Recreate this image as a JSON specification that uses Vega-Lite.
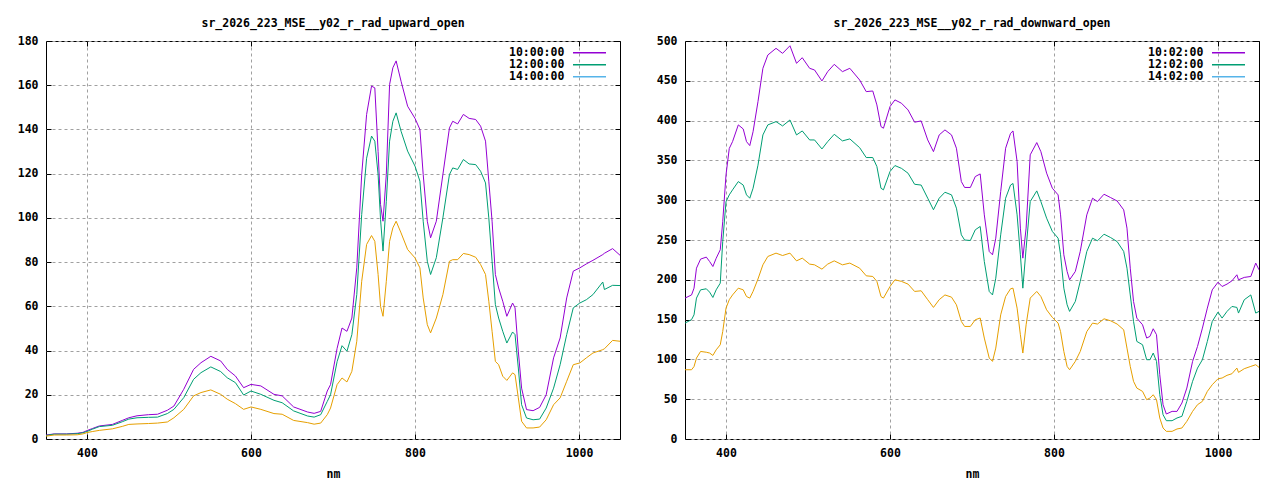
{
"$schema": "https://vega.github.io/schema/vega-lite/v6.json",
"background": "white",
"padding": {"left": 5, "top": 17, "right": 5, "bottom": 0},
"datasets": {
"up": [
{"t":"10:00:00","nm":350,"v":1.8},{"t":"10:00:00","nm":360,"v":2.3},{"t":"10:00:00","nm":375,"v":2.3},{"t":"10:00:00","nm":388,"v":2.6},{"t":"10:00:00","nm":395,"v":3.0},{"t":"10:00:00","nm":400,"v":3.8},{"t":"10:00:00","nm":407,"v":4.8},{"t":"10:00:00","nm":415,"v":5.9},{"t":"10:00:00","nm":431,"v":6.6},{"t":"10:00:00","nm":443,"v":8.4},{"t":"10:00:00","nm":451,"v":9.6},{"t":"10:00:00","nm":461,"v":10.5},{"t":"10:00:00","nm":475,"v":11.0},{"t":"10:00:00","nm":486,"v":11.2},{"t":"10:00:00","nm":498,"v":13.0},{"t":"10:00:00","nm":506,"v":14.9},{"t":"10:00:00","nm":518,"v":22.5},{"t":"10:00:00","nm":530,"v":31.5},{"t":"10:00:00","nm":539,"v":34.5},{"t":"10:00:00","nm":551,"v":37.4},{"t":"10:00:00","nm":563,"v":35.3},{"t":"10:00:00","nm":571,"v":31.5},{"t":"10:00:00","nm":581,"v":28.5},{"t":"10:00:00","nm":591,"v":23.2},{"t":"10:00:00","nm":600,"v":24.7},{"t":"10:00:00","nm":612,"v":24.0},{"t":"10:00:00","nm":628,"v":20.2},{"t":"10:00:00","nm":638,"v":19.5},{"t":"10:00:00","nm":652,"v":14.5},{"t":"10:00:00","nm":669,"v":12.2},{"t":"10:00:00","nm":677,"v":11.6},{"t":"10:00:00","nm":685,"v":12.5},{"t":"10:00:00","nm":693,"v":21.7},{"t":"10:00:00","nm":697,"v":24.6},{"t":"10:00:00","nm":705,"v":41.0},{"t":"10:00:00","nm":711,"v":50.2},{"t":"10:00:00","nm":717,"v":48.7},{"t":"10:00:00","nm":723,"v":54.7},{"t":"10:00:00","nm":729,"v":77.4},{"t":"10:00:00","nm":735,"v":119.6},{"t":"10:00:00","nm":741,"v":146.8},{"t":"10:00:00","nm":747,"v":159.6},{"t":"10:00:00","nm":751,"v":158.8},{"t":"10:00:00","nm":755,"v":130.0},{"t":"10:00:00","nm":758,"v":106.0},{"t":"10:00:00","nm":761,"v":98.5},{"t":"10:00:00","nm":765,"v":119.6},{"t":"10:00:00","nm":769,"v":160.3},{"t":"10:00:00","nm":773,"v":167.9},{"t":"10:00:00","nm":777,"v":171.0},{"t":"10:00:00","nm":783,"v":161.8},{"t":"10:00:00","nm":791,"v":150.5},{"t":"10:00:00","nm":800,"v":145.0},{"t":"10:00:00","nm":806,"v":140.0},{"t":"10:00:00","nm":810,"v":119.6},{"t":"10:00:00","nm":815,"v":98.5},{"t":"10:00:00","nm":819,"v":91.0},{"t":"10:00:00","nm":826,"v":98.5},{"t":"10:00:00","nm":834,"v":119.6},{"t":"10:00:00","nm":842,"v":140.7},{"t":"10:00:00","nm":846,"v":143.7},{"t":"10:00:00","nm":852,"v":142.5},{"t":"10:00:00","nm":859,"v":146.8},{"t":"10:00:00","nm":866,"v":145.0},{"t":"10:00:00","nm":874,"v":144.5},{"t":"10:00:00","nm":880,"v":141.5},{"t":"10:00:00","nm":886,"v":134.7},{"t":"10:00:00","nm":890,"v":116.6},{"t":"10:00:00","nm":894,"v":98.5},{"t":"10:00:00","nm":898,"v":74.4},{"t":"10:00:00","nm":902,"v":68.3},{"t":"10:00:00","nm":907,"v":62.3},{"t":"10:00:00","nm":912,"v":55.5},{"t":"10:00:00","nm":919,"v":61.5},{"t":"10:00:00","nm":922,"v":59.3},{"t":"10:00:00","nm":926,"v":39.7},{"t":"10:00:00","nm":930,"v":23.0},{"t":"10:00:00","nm":936,"v":13.3},{"t":"10:00:00","nm":944,"v":12.8},{"t":"10:00:00","nm":952,"v":14.3},{"t":"10:00:00","nm":960,"v":20.0},{"t":"10:00:00","nm":969,"v":36.7},{"t":"10:00:00","nm":977,"v":45.7},{"t":"10:00:00","nm":985,"v":63.8},{"t":"10:00:00","nm":993,"v":75.9},{"t":"10:00:00","nm":1001,"v":77.4},{"t":"10:00:00","nm":1009,"v":79.2},{"t":"10:00:00","nm":1017,"v":80.8},{"t":"10:00:00","nm":1029,"v":83.4},{"t":"10:00:00","nm":1031,"v":84.0},{"t":"10:00:00","nm":1041,"v":86.1},{"t":"10:00:00","nm":1050,"v":83.1},
{"t":"12:00:00","nm":350,"v":1.6},{"t":"12:00:00","nm":360,"v":2.2},{"t":"12:00:00","nm":375,"v":2.2},{"t":"12:00:00","nm":388,"v":2.4},{"t":"12:00:00","nm":395,"v":2.8},{"t":"12:00:00","nm":400,"v":3.4},{"t":"12:00:00","nm":407,"v":4.5},{"t":"12:00:00","nm":415,"v":5.6},{"t":"12:00:00","nm":431,"v":6.2},{"t":"12:00:00","nm":443,"v":7.8},{"t":"12:00:00","nm":451,"v":9.0},{"t":"12:00:00","nm":461,"v":9.6},{"t":"12:00:00","nm":475,"v":9.8},{"t":"12:00:00","nm":486,"v":9.9},{"t":"12:00:00","nm":498,"v":11.5},{"t":"12:00:00","nm":506,"v":13.4},{"t":"12:00:00","nm":518,"v":18.7},{"t":"12:00:00","nm":530,"v":27.0},{"t":"12:00:00","nm":539,"v":30.0},{"t":"12:00:00","nm":551,"v":32.6},{"t":"12:00:00","nm":563,"v":30.5},{"t":"12:00:00","nm":571,"v":27.7},{"t":"12:00:00","nm":581,"v":25.5},{"t":"12:00:00","nm":591,"v":19.9},{"t":"12:00:00","nm":600,"v":21.7},{"t":"12:00:00","nm":612,"v":20.2},{"t":"12:00:00","nm":628,"v":17.5},{"t":"12:00:00","nm":638,"v":16.4},{"t":"12:00:00","nm":652,"v":12.7},{"t":"12:00:00","nm":669,"v":10.4},{"t":"12:00:00","nm":677,"v":9.9},{"t":"12:00:00","nm":685,"v":11.0},{"t":"12:00:00","nm":693,"v":17.0},{"t":"12:00:00","nm":697,"v":20.0},{"t":"12:00:00","nm":705,"v":35.0},{"t":"12:00:00","nm":711,"v":42.2},{"t":"12:00:00","nm":717,"v":39.7},{"t":"12:00:00","nm":723,"v":47.2},{"t":"12:00:00","nm":729,"v":65.3},{"t":"12:00:00","nm":735,"v":101.5},{"t":"12:00:00","nm":741,"v":127.0},{"t":"12:00:00","nm":747,"v":137.0},{"t":"12:00:00","nm":751,"v":134.7},{"t":"12:00:00","nm":755,"v":119.6},{"t":"12:00:00","nm":758,"v":99.2},{"t":"12:00:00","nm":761,"v":85.0},{"t":"12:00:00","nm":765,"v":107.5},{"t":"12:00:00","nm":769,"v":134.7},{"t":"12:00:00","nm":773,"v":143.7},{"t":"12:00:00","nm":777,"v":147.5},{"t":"12:00:00","nm":783,"v":139.2},{"t":"12:00:00","nm":791,"v":130.2},{"t":"12:00:00","nm":800,"v":123.4},{"t":"12:00:00","nm":806,"v":116.6},{"t":"12:00:00","nm":810,"v":98.5},{"t":"12:00:00","nm":815,"v":80.4},{"t":"12:00:00","nm":819,"v":74.4},{"t":"12:00:00","nm":826,"v":82.0},{"t":"12:00:00","nm":834,"v":100.0},{"t":"12:00:00","nm":842,"v":119.6},{"t":"12:00:00","nm":846,"v":122.6},{"t":"12:00:00","nm":852,"v":121.9},{"t":"12:00:00","nm":859,"v":126.4},{"t":"12:00:00","nm":866,"v":124.4},{"t":"12:00:00","nm":874,"v":124.1},{"t":"12:00:00","nm":880,"v":121.1},{"t":"12:00:00","nm":886,"v":115.8},{"t":"12:00:00","nm":890,"v":100.0},{"t":"12:00:00","nm":894,"v":80.4},{"t":"12:00:00","nm":898,"v":60.8},{"t":"12:00:00","nm":902,"v":54.7},{"t":"12:00:00","nm":907,"v":48.7},{"t":"12:00:00","nm":912,"v":43.4},{"t":"12:00:00","nm":919,"v":48.4},{"t":"12:00:00","nm":922,"v":47.2},{"t":"12:00:00","nm":926,"v":32.1},{"t":"12:00:00","nm":930,"v":15.5},{"t":"12:00:00","nm":936,"v":9.5},{"t":"12:00:00","nm":944,"v":8.7},{"t":"12:00:00","nm":952,"v":9.0},{"t":"12:00:00","nm":960,"v":14.0},{"t":"12:00:00","nm":969,"v":23.0},{"t":"12:00:00","nm":977,"v":33.6},{"t":"12:00:00","nm":985,"v":47.2},{"t":"12:00:00","nm":993,"v":59.3},{"t":"12:00:00","nm":1001,"v":61.5},{"t":"12:00:00","nm":1009,"v":63.0},{"t":"12:00:00","nm":1017,"v":65.3},{"t":"12:00:00","nm":1029,"v":71.0},{"t":"12:00:00","nm":1031,"v":67.6},{"t":"12:00:00","nm":1041,"v":69.5},{"t":"12:00:00","nm":1050,"v":69.4},
{"t":"14:00:00","nm":350,"v":1.3},{"t":"14:00:00","nm":360,"v":1.8},{"t":"14:00:00","nm":375,"v":1.8},{"t":"14:00:00","nm":388,"v":1.9},{"t":"14:00:00","nm":395,"v":2.3},{"t":"14:00:00","nm":400,"v":2.9},{"t":"14:00:00","nm":407,"v":3.4},{"t":"14:00:00","nm":415,"v":3.9},{"t":"14:00:00","nm":431,"v":4.6},{"t":"14:00:00","nm":443,"v":5.7},{"t":"14:00:00","nm":451,"v":6.6},{"t":"14:00:00","nm":461,"v":6.8},{"t":"14:00:00","nm":475,"v":7.0},{"t":"14:00:00","nm":486,"v":7.2},{"t":"14:00:00","nm":498,"v":7.7},{"t":"14:00:00","nm":506,"v":9.6},{"t":"14:00:00","nm":518,"v":13.4},{"t":"14:00:00","nm":530,"v":19.5},{"t":"14:00:00","nm":539,"v":21.0},{"t":"14:00:00","nm":551,"v":22.2},{"t":"14:00:00","nm":563,"v":20.2},{"t":"14:00:00","nm":571,"v":18.0},{"t":"14:00:00","nm":581,"v":16.0},{"t":"14:00:00","nm":591,"v":13.4},{"t":"14:00:00","nm":600,"v":14.5},{"t":"14:00:00","nm":612,"v":13.4},{"t":"14:00:00","nm":628,"v":11.5},{"t":"14:00:00","nm":638,"v":11.2},{"t":"14:00:00","nm":652,"v":8.4},{"t":"14:00:00","nm":669,"v":7.4},{"t":"14:00:00","nm":677,"v":6.7},{"t":"14:00:00","nm":685,"v":7.2},{"t":"14:00:00","nm":693,"v":11.0},{"t":"14:00:00","nm":697,"v":14.0},{"t":"14:00:00","nm":705,"v":24.6},{"t":"14:00:00","nm":711,"v":27.6},{"t":"14:00:00","nm":717,"v":25.8},{"t":"14:00:00","nm":723,"v":30.6},{"t":"14:00:00","nm":729,"v":44.2},{"t":"14:00:00","nm":735,"v":71.3},{"t":"14:00:00","nm":741,"v":88.0},{"t":"14:00:00","nm":747,"v":92.0},{"t":"14:00:00","nm":751,"v":89.4},{"t":"14:00:00","nm":755,"v":74.4},{"t":"14:00:00","nm":758,"v":60.0},{"t":"14:00:00","nm":761,"v":55.5},{"t":"14:00:00","nm":765,"v":71.3},{"t":"14:00:00","nm":769,"v":89.4},{"t":"14:00:00","nm":773,"v":95.5},{"t":"14:00:00","nm":777,"v":98.5},{"t":"14:00:00","nm":783,"v":93.2},{"t":"14:00:00","nm":791,"v":85.7},{"t":"14:00:00","nm":800,"v":81.9},{"t":"14:00:00","nm":806,"v":77.4},{"t":"14:00:00","nm":810,"v":63.8},{"t":"14:00:00","nm":815,"v":51.7},{"t":"14:00:00","nm":819,"v":48.0},{"t":"14:00:00","nm":826,"v":54.7},{"t":"14:00:00","nm":834,"v":65.3},{"t":"14:00:00","nm":842,"v":80.4},{"t":"14:00:00","nm":846,"v":81.1},{"t":"14:00:00","nm":852,"v":81.1},{"t":"14:00:00","nm":859,"v":83.9},{"t":"14:00:00","nm":866,"v":83.4},{"t":"14:00:00","nm":874,"v":82.2},{"t":"14:00:00","nm":880,"v":78.9},{"t":"14:00:00","nm":886,"v":74.4},{"t":"14:00:00","nm":890,"v":62.3},{"t":"14:00:00","nm":894,"v":48.7},{"t":"14:00:00","nm":898,"v":35.1},{"t":"14:00:00","nm":902,"v":33.6},{"t":"14:00:00","nm":907,"v":28.4},{"t":"14:00:00","nm":912,"v":26.5},{"t":"14:00:00","nm":919,"v":29.9},{"t":"14:00:00","nm":922,"v":29.1},{"t":"14:00:00","nm":926,"v":18.6},{"t":"14:00:00","nm":930,"v":8.0},{"t":"14:00:00","nm":936,"v":5.0},{"t":"14:00:00","nm":944,"v":5.0},{"t":"14:00:00","nm":952,"v":5.4},{"t":"14:00:00","nm":960,"v":8.7},{"t":"14:00:00","nm":969,"v":15.5},{"t":"14:00:00","nm":977,"v":18.6},{"t":"14:00:00","nm":985,"v":26.1},{"t":"14:00:00","nm":993,"v":33.6},{"t":"14:00:00","nm":1001,"v":34.4},{"t":"14:00:00","nm":1009,"v":36.7},{"t":"14:00:00","nm":1017,"v":38.9},{"t":"14:00:00","nm":1029,"v":40.4},{"t":"14:00:00","nm":1031,"v":40.8},{"t":"14:00:00","nm":1041,"v":44.6},{"t":"14:00:00","nm":1050,"v":44.2}
],
"down": [
{"t":"10:02:00","nm":350,"v":177},{"t":"10:02:00","nm":358,"v":181},{"t":"10:02:00","nm":361,"v":189.5},{"t":"10:02:00","nm":364,"v":214.6},{"t":"10:02:00","nm":369,"v":226},{"t":"10:02:00","nm":376,"v":228.5},{"t":"10:02:00","nm":380,"v":223},{"t":"10:02:00","nm":384,"v":216.7},{"t":"10:02:00","nm":388,"v":227},{"t":"10:02:00","nm":393,"v":237.7},{"t":"10:02:00","nm":396,"v":273},{"t":"10:02:00","nm":400,"v":331.8},{"t":"10:02:00","nm":404,"v":365},{"t":"10:02:00","nm":408,"v":373.6},{"t":"10:02:00","nm":415,"v":394.6},{"t":"10:02:00","nm":421,"v":389.5},{"t":"10:02:00","nm":425,"v":373.6},{"t":"10:02:00","nm":429,"v":368.6},{"t":"10:02:00","nm":433,"v":386},{"t":"10:02:00","nm":439,"v":423.8},{"t":"10:02:00","nm":445,"v":465.7},{"t":"10:02:00","nm":451,"v":482.4},{"t":"10:02:00","nm":461,"v":490.8},{"t":"10:02:00","nm":469,"v":484.5},{"t":"10:02:00","nm":478,"v":494},{"t":"10:02:00","nm":486,"v":472},{"t":"10:02:00","nm":493,"v":479},{"t":"10:02:00","nm":502,"v":465.7},{"t":"10:02:00","nm":508,"v":463.6},{"t":"10:02:00","nm":517,"v":449.8},{"t":"10:02:00","nm":524,"v":461.5},{"t":"10:02:00","nm":532,"v":470.7},{"t":"10:02:00","nm":542,"v":461.5},{"t":"10:02:00","nm":551,"v":465.7},{"t":"10:02:00","nm":563,"v":451},{"t":"10:02:00","nm":571,"v":436.4},{"t":"10:02:00","nm":579,"v":437.2},{"t":"10:02:00","nm":584,"v":419.7},{"t":"10:02:00","nm":589,"v":392.5},{"t":"10:02:00","nm":592,"v":390.4},{"t":"10:02:00","nm":600,"v":417.6},{"t":"10:02:00","nm":606,"v":426},{"t":"10:02:00","nm":614,"v":421.8},{"t":"10:02:00","nm":622,"v":413.4},{"t":"10:02:00","nm":630,"v":398},{"t":"10:02:00","nm":638,"v":399.6},{"t":"10:02:00","nm":646,"v":375.7},{"t":"10:02:00","nm":653,"v":361},{"t":"10:02:00","nm":660,"v":382},{"t":"10:02:00","nm":667,"v":388.3},{"t":"10:02:00","nm":675,"v":382},{"t":"10:02:00","nm":681,"v":365.3},{"t":"10:02:00","nm":687,"v":323.4},{"t":"10:02:00","nm":691,"v":316},{"t":"10:02:00","nm":698,"v":316},{"t":"10:02:00","nm":704,"v":329.7},{"t":"10:02:00","nm":710,"v":333},{"t":"10:02:00","nm":715,"v":281.6},{"t":"10:02:00","nm":721,"v":235.6},{"t":"10:02:00","nm":725,"v":231.4},{"t":"10:02:00","nm":729,"v":252.3},{"t":"10:02:00","nm":735,"v":310.9},{"t":"10:02:00","nm":741,"v":365.3},{"t":"10:02:00","nm":747,"v":384},{"t":"10:02:00","nm":750,"v":387},{"t":"10:02:00","nm":755,"v":348.5},{"t":"10:02:00","nm":759,"v":264.9},{"t":"10:02:00","nm":762,"v":227.2},{"t":"10:02:00","nm":766,"v":264.9},{"t":"10:02:00","nm":771,"v":357},{"t":"10:02:00","nm":779,"v":372.4},{"t":"10:02:00","nm":784,"v":361},{"t":"10:02:00","nm":791,"v":334},{"t":"10:02:00","nm":798,"v":315},{"t":"10:02:00","nm":805,"v":306.7},{"t":"10:02:00","nm":808,"v":281.6},{"t":"10:02:00","nm":812,"v":231.4},{"t":"10:02:00","nm":816,"v":210.5},{"t":"10:02:00","nm":819,"v":200},{"t":"10:02:00","nm":826,"v":210.5},{"t":"10:02:00","nm":832,"v":235.6},{"t":"10:02:00","nm":840,"v":281.6},{"t":"10:02:00","nm":847,"v":302.5},{"t":"10:02:00","nm":853,"v":298.3},{"t":"10:02:00","nm":861,"v":307.5},{"t":"10:02:00","nm":869,"v":303.3},{"t":"10:02:00","nm":877,"v":299},{"t":"10:02:00","nm":885,"v":287.9},{"t":"10:02:00","nm":889,"v":264.9},{"t":"10:02:00","nm":893,"v":214.6},{"t":"10:02:00","nm":897,"v":172.8},{"t":"10:02:00","nm":901,"v":151.9},{"t":"10:02:00","nm":908,"v":143.5},{"t":"10:02:00","nm":913,"v":126.8},{"t":"10:02:00","nm":917,"v":128.9},{"t":"10:02:00","nm":921,"v":138.5},{"t":"10:02:00","nm":925,"v":131},{"t":"10:02:00","nm":929,"v":80.8},{"t":"10:02:00","nm":933,"v":43},{"t":"10:02:00","nm":937,"v":31.4},{"t":"10:02:00","nm":944,"v":34.7},{"t":"10:02:00","nm":950,"v":34.7},{"t":"10:02:00","nm":956,"v":45.2},{"t":"10:02:00","nm":962,"v":64},{"t":"10:02:00","nm":969,"v":97.5},{"t":"10:02:00","nm":975,"v":116.3},{"t":"10:02:00","nm":981,"v":139.3},{"t":"10:02:00","nm":987,"v":164.4},{"t":"10:02:00","nm":993,"v":187.4},{"t":"10:02:00","nm":1000,"v":197},{"t":"10:02:00","nm":1005,"v":191.6},{"t":"10:02:00","nm":1011,"v":194.6},{"t":"10:02:00","nm":1017,"v":198.7},{"t":"10:02:00","nm":1023,"v":206.3},{"t":"10:02:00","nm":1025,"v":200},{"t":"10:02:00","nm":1032,"v":203},{"t":"10:02:00","nm":1040,"v":204.2},{"t":"10:02:00","nm":1046,"v":221},{"t":"10:02:00","nm":1050,"v":212.6},
{"t":"12:02:00","nm":350,"v":145.6},{"t":"12:02:00","nm":358,"v":150},{"t":"12:02:00","nm":361,"v":156},{"t":"12:02:00","nm":364,"v":177},{"t":"12:02:00","nm":369,"v":187.4},{"t":"12:02:00","nm":376,"v":188.7},{"t":"12:02:00","nm":380,"v":184.5},{"t":"12:02:00","nm":384,"v":177.8},{"t":"12:02:00","nm":388,"v":187.4},{"t":"12:02:00","nm":393,"v":195.8},{"t":"12:02:00","nm":396,"v":248},{"t":"12:02:00","nm":400,"v":298},{"t":"12:02:00","nm":404,"v":306.7},{"t":"12:02:00","nm":408,"v":313},{"t":"12:02:00","nm":415,"v":323.4},{"t":"12:02:00","nm":421,"v":319},{"t":"12:02:00","nm":425,"v":306.7},{"t":"12:02:00","nm":429,"v":302.5},{"t":"12:02:00","nm":433,"v":315},{"t":"12:02:00","nm":439,"v":344},{"t":"12:02:00","nm":445,"v":382},{"t":"12:02:00","nm":451,"v":394.6},{"t":"12:02:00","nm":461,"v":398.7},{"t":"12:02:00","nm":469,"v":393.3},{"t":"12:02:00","nm":478,"v":400.8},{"t":"12:02:00","nm":486,"v":382},{"t":"12:02:00","nm":493,"v":387},{"t":"12:02:00","nm":502,"v":375.7},{"t":"12:02:00","nm":508,"v":375.7},{"t":"12:02:00","nm":517,"v":364.4},{"t":"12:02:00","nm":524,"v":373.6},{"t":"12:02:00","nm":532,"v":382.8},{"t":"12:02:00","nm":542,"v":374.5},{"t":"12:02:00","nm":551,"v":377},{"t":"12:02:00","nm":563,"v":366},{"t":"12:02:00","nm":571,"v":353.6},{"t":"12:02:00","nm":579,"v":353.6},{"t":"12:02:00","nm":584,"v":342.3},{"t":"12:02:00","nm":589,"v":315},{"t":"12:02:00","nm":592,"v":313},{"t":"12:02:00","nm":600,"v":336},{"t":"12:02:00","nm":606,"v":343.5},{"t":"12:02:00","nm":614,"v":340},{"t":"12:02:00","nm":622,"v":333.9},{"t":"12:02:00","nm":630,"v":320},{"t":"12:02:00","nm":638,"v":319},{"t":"12:02:00","nm":646,"v":302.5},{"t":"12:02:00","nm":653,"v":288},{"t":"12:02:00","nm":660,"v":302.5},{"t":"12:02:00","nm":667,"v":310},{"t":"12:02:00","nm":675,"v":306.7},{"t":"12:02:00","nm":681,"v":290},{"t":"12:02:00","nm":687,"v":256.5},{"t":"12:02:00","nm":691,"v":250},{"t":"12:02:00","nm":698,"v":249.4},{"t":"12:02:00","nm":704,"v":262.8},{"t":"12:02:00","nm":710,"v":267},{"t":"12:02:00","nm":715,"v":223},{"t":"12:02:00","nm":721,"v":185.4},{"t":"12:02:00","nm":725,"v":181},{"t":"12:02:00","nm":729,"v":202},{"t":"12:02:00","nm":735,"v":256.5},{"t":"12:02:00","nm":741,"v":302.5},{"t":"12:02:00","nm":747,"v":319},{"t":"12:02:00","nm":750,"v":321},{"t":"12:02:00","nm":755,"v":281.6},{"t":"12:02:00","nm":759,"v":231.4},{"t":"12:02:00","nm":762,"v":189.5},{"t":"12:02:00","nm":766,"v":239.7},{"t":"12:02:00","nm":771,"v":298.3},{"t":"12:02:00","nm":779,"v":311.7},{"t":"12:02:00","nm":784,"v":298.3},{"t":"12:02:00","nm":791,"v":277.4},{"t":"12:02:00","nm":798,"v":260.7},{"t":"12:02:00","nm":805,"v":252.3},{"t":"12:02:00","nm":808,"v":231.4},{"t":"12:02:00","nm":812,"v":189.5},{"t":"12:02:00","nm":816,"v":168.6},{"t":"12:02:00","nm":819,"v":160.3},{"t":"12:02:00","nm":826,"v":172.8},{"t":"12:02:00","nm":832,"v":198},{"t":"12:02:00","nm":840,"v":235.6},{"t":"12:02:00","nm":847,"v":252.3},{"t":"12:02:00","nm":853,"v":249},{"t":"12:02:00","nm":861,"v":257.3},{"t":"12:02:00","nm":869,"v":253.1},{"t":"12:02:00","nm":877,"v":248},{"t":"12:02:00","nm":885,"v":235.6},{"t":"12:02:00","nm":889,"v":214.6},{"t":"12:02:00","nm":893,"v":181},{"t":"12:02:00","nm":897,"v":147.7},{"t":"12:02:00","nm":901,"v":122.6},{"t":"12:02:00","nm":908,"v":118.4},{"t":"12:02:00","nm":913,"v":99.6},{"t":"12:02:00","nm":917,"v":99.6},{"t":"12:02:00","nm":921,"v":108},{"t":"12:02:00","nm":925,"v":97.5},{"t":"12:02:00","nm":929,"v":55.6},{"t":"12:02:00","nm":933,"v":30.5},{"t":"12:02:00","nm":937,"v":23},{"t":"12:02:00","nm":944,"v":23},{"t":"12:02:00","nm":950,"v":26.4},{"t":"12:02:00","nm":956,"v":28.5},{"t":"12:02:00","nm":962,"v":47.3},{"t":"12:02:00","nm":969,"v":72.4},{"t":"12:02:00","nm":975,"v":89.1},{"t":"12:02:00","nm":981,"v":99.6},{"t":"12:02:00","nm":987,"v":122.6},{"t":"12:02:00","nm":993,"v":147.7},{"t":"12:02:00","nm":1000,"v":159.4},{"t":"12:02:00","nm":1005,"v":151.9},{"t":"12:02:00","nm":1011,"v":160.3},{"t":"12:02:00","nm":1017,"v":166.5},{"t":"12:02:00","nm":1023,"v":165.3},{"t":"12:02:00","nm":1025,"v":158.2},{"t":"12:02:00","nm":1032,"v":174.9},{"t":"12:02:00","nm":1040,"v":181},{"t":"12:02:00","nm":1046,"v":158.2},{"t":"12:02:00","nm":1050,"v":160.3},
{"t":"14:02:00","nm":350,"v":87},{"t":"14:02:00","nm":358,"v":87},{"t":"14:02:00","nm":361,"v":91},{"t":"14:02:00","nm":364,"v":101.7},{"t":"14:02:00","nm":369,"v":110},{"t":"14:02:00","nm":376,"v":109},{"t":"14:02:00","nm":380,"v":108},{"t":"14:02:00","nm":384,"v":105},{"t":"14:02:00","nm":388,"v":112},{"t":"14:02:00","nm":393,"v":118.4},{"t":"14:02:00","nm":396,"v":135},{"t":"14:02:00","nm":400,"v":164.4},{"t":"14:02:00","nm":404,"v":175},{"t":"14:02:00","nm":408,"v":181},{"t":"14:02:00","nm":415,"v":189.5},{"t":"14:02:00","nm":421,"v":187.4},{"t":"14:02:00","nm":425,"v":179},{"t":"14:02:00","nm":429,"v":177},{"t":"14:02:00","nm":433,"v":185.4},{"t":"14:02:00","nm":439,"v":201},{"t":"14:02:00","nm":445,"v":218.8},{"t":"14:02:00","nm":451,"v":229.3},{"t":"14:02:00","nm":461,"v":233.5},{"t":"14:02:00","nm":469,"v":230.5},{"t":"14:02:00","nm":478,"v":233.5},{"t":"14:02:00","nm":486,"v":223.8},{"t":"14:02:00","nm":493,"v":227.2},{"t":"14:02:00","nm":502,"v":219.7},{"t":"14:02:00","nm":508,"v":218.8},{"t":"14:02:00","nm":517,"v":213.4},{"t":"14:02:00","nm":524,"v":219.7},{"t":"14:02:00","nm":532,"v":223.8},{"t":"14:02:00","nm":542,"v":218.8},{"t":"14:02:00","nm":551,"v":221},{"t":"14:02:00","nm":563,"v":214.6},{"t":"14:02:00","nm":571,"v":205},{"t":"14:02:00","nm":579,"v":204.2},{"t":"14:02:00","nm":584,"v":198},{"t":"14:02:00","nm":589,"v":179},{"t":"14:02:00","nm":592,"v":177},{"t":"14:02:00","nm":600,"v":191.6},{"t":"14:02:00","nm":606,"v":200},{"t":"14:02:00","nm":614,"v":198},{"t":"14:02:00","nm":622,"v":194.6},{"t":"14:02:00","nm":630,"v":185.4},{"t":"14:02:00","nm":638,"v":186.2},{"t":"14:02:00","nm":646,"v":175},{"t":"14:02:00","nm":653,"v":165.3},{"t":"14:02:00","nm":660,"v":175},{"t":"14:02:00","nm":667,"v":181},{"t":"14:02:00","nm":675,"v":178.2},{"t":"14:02:00","nm":681,"v":168.6},{"t":"14:02:00","nm":687,"v":147.7},{"t":"14:02:00","nm":691,"v":141.4},{"t":"14:02:00","nm":698,"v":141.4},{"t":"14:02:00","nm":704,"v":149.8},{"t":"14:02:00","nm":710,"v":152},{"t":"14:02:00","nm":715,"v":126.8},{"t":"14:02:00","nm":721,"v":101.7},{"t":"14:02:00","nm":725,"v":97.5},{"t":"14:02:00","nm":729,"v":114.2},{"t":"14:02:00","nm":735,"v":156},{"t":"14:02:00","nm":741,"v":179},{"t":"14:02:00","nm":747,"v":188.7},{"t":"14:02:00","nm":750,"v":189.5},{"t":"14:02:00","nm":755,"v":164.4},{"t":"14:02:00","nm":759,"v":131},{"t":"14:02:00","nm":762,"v":108},{"t":"14:02:00","nm":766,"v":143.5},{"t":"14:02:00","nm":771,"v":177},{"t":"14:02:00","nm":779,"v":185.4},{"t":"14:02:00","nm":784,"v":179},{"t":"14:02:00","nm":791,"v":162.3},{"t":"14:02:00","nm":798,"v":152.7},{"t":"14:02:00","nm":805,"v":145.6},{"t":"14:02:00","nm":808,"v":135},{"t":"14:02:00","nm":812,"v":110},{"t":"14:02:00","nm":816,"v":91.2},{"t":"14:02:00","nm":819,"v":87},{"t":"14:02:00","nm":826,"v":97.5},{"t":"14:02:00","nm":832,"v":110},{"t":"14:02:00","nm":840,"v":135},{"t":"14:02:00","nm":847,"v":145.6},{"t":"14:02:00","nm":853,"v":144.4},{"t":"14:02:00","nm":861,"v":151},{"t":"14:02:00","nm":869,"v":148.5},{"t":"14:02:00","nm":877,"v":144.4},{"t":"14:02:00","nm":885,"v":137.2},{"t":"14:02:00","nm":889,"v":114.2},{"t":"14:02:00","nm":893,"v":91.2},{"t":"14:02:00","nm":897,"v":72.4},{"t":"14:02:00","nm":901,"v":64},{"t":"14:02:00","nm":908,"v":59.8},{"t":"14:02:00","nm":913,"v":49.4},{"t":"14:02:00","nm":917,"v":51.5},{"t":"14:02:00","nm":921,"v":55.6},{"t":"14:02:00","nm":925,"v":49.4},{"t":"14:02:00","nm":929,"v":26.4},{"t":"14:02:00","nm":933,"v":13.8},{"t":"14:02:00","nm":937,"v":9.6},{"t":"14:02:00","nm":944,"v":9.6},{"t":"14:02:00","nm":950,"v":12.6},{"t":"14:02:00","nm":956,"v":13.8},{"t":"14:02:00","nm":962,"v":22.2},{"t":"14:02:00","nm":969,"v":34.7},{"t":"14:02:00","nm":975,"v":43.1},{"t":"14:02:00","nm":981,"v":47.3},{"t":"14:02:00","nm":987,"v":59.8},{"t":"14:02:00","nm":993,"v":68.2},{"t":"14:02:00","nm":1000,"v":75.7},{"t":"14:02:00","nm":1005,"v":76.6},{"t":"14:02:00","nm":1011,"v":80},{"t":"14:02:00","nm":1017,"v":82},{"t":"14:02:00","nm":1023,"v":89.1},{"t":"14:02:00","nm":1025,"v":83.7},{"t":"14:02:00","nm":1032,"v":88.3},{"t":"14:02:00","nm":1040,"v":91.2},{"t":"14:02:00","nm":1046,"v":93.3},{"t":"14:02:00","nm":1050,"v":90}
]
},
"config": {
"font": "DejaVu Sans Mono",
"view": {"stroke": "black", "strokeWidth": 1},
"axis": {"labelFont": "DejaVu Sans Mono", "labelFontSize": 11.5, "labelFontWeight": "bold", "labelColor": "black", "titleFont": "DejaVu Sans Mono", "titleFontSize": 11.5, "titleFontWeight": "bold", "titleColor": "black", "domain": false, "tickColor": "black", "tickSize": -5, "tickWidth": 1, "gridColor": "#a0a0a0", "gridDash": [3, 3], "gridWidth": 1},
"legend": {"labelFont": "DejaVu Sans Mono", "labelFontSize": 11.5, "labelFontWeight": "bold", "labelColor": "black"},
"title": {"font": "DejaVu Sans Mono", "fontSize": 11.5, "fontWeight": "bold", "color": "black"}
},
"spacing": 20,
"hconcat": [
{
"width": 574, "height": 398,
"title": {"text": "sr_2026_223_MSE__y02_r_rad_upward_open", "offset": 5.5},
"data": {"name": "up"},
"layer": [
{"mark": {"type": "line", "strokeWidth": 1, "clip": true},
"encoding": {
"x": {"field": "nm", "type": "quantitative", "scale": {"domain": [350, 1050], "nice": false, "zero": false}, "axis": {"orient": "bottom", "values": [400, 600, 800, 1000], "format": "d", "title": "nm", "grid": true, "labelPadding": 13, "titlePadding": 9.5}},
"y": {"field": "v", "type": "quantitative", "scale": {"domain": [0, 180], "nice": false}, "axis": {"orient": "left", "values": [0, 20, 40, 60, 80, 100, 120, 140, 160, 180], "title": null, "grid": true, "labelPadding": 13, "minExtent": 40, "maxExtent": 40}},
"color": {"field": "t", "type": "nominal", "scale": {"domain": ["10:00:00", "12:00:00", "14:00:00"], "range": ["#9400d3", "#009e73", "#e69f00"]}, "legend": null}
}},
{"transform": [{"filter": {"field": "nm", "lt": 0}}],
"mark": {"type": "line", "strokeWidth": 1.5},
"encoding": {
"x": {"field": "nm", "type": "quantitative", "scale": {"domain": [350, 1050], "nice": false, "zero": false}, "axis": null},
"y": {"field": "v", "type": "quantitative", "scale": {"domain": [0, 180], "nice": false}, "axis": null},
"color": {"field": "t", "type": "nominal", "scale": {"domain": ["10:00:00", "12:00:00", "14:00:00"], "range": ["#9400d3", "#009e73", "#56b4e9"]},
"legend": {"title": null, "orient": "none", "legendX": 463, "legendY": 5.3, "padding": 0, "symbolType": "M-3,0H3", "symbolSize": 121, "symbolStrokeWidth": 1.5, "symbolOpacity": 1, "rowPadding": 0, "labelOffset": -87, "symbolOffset": 74}}
}},
{"mark": {"type": "point", "opacity": 0},
"encoding": {
"x": {"field": "nm", "type": "quantitative", "scale": {"domain": [350, 1050], "nice": false, "zero": false}, "axis": {"orient": "top", "values": [400, 600, 800, 1000], "labels": false, "grid": false, "title": null, "minExtent": 0, "maxExtent": 0}},
"y": {"field": "v", "type": "quantitative", "scale": {"domain": [0, 180], "nice": false}, "axis": {"orient": "right", "values": [0, 20, 40, 60, 80, 100, 120, 140, 160, 180], "labels": false, "grid": false, "title": null, "minExtent": 0, "maxExtent": 0}}
}}
],
"resolve": {"axis": {"x": "independent", "y": "independent"}, "scale": {"color": "independent"}}
},
{
"width": 574, "height": 398,
"title": {"text": "sr_2026_223_MSE__y02_r_rad_downward_open", "offset": 5.5},
"data": {"name": "down"},
"layer": [
{"mark": {"type": "line", "strokeWidth": 1, "clip": true},
"encoding": {
"x": {"field": "nm", "type": "quantitative", "scale": {"domain": [350, 1050], "nice": false, "zero": false}, "axis": {"orient": "bottom", "values": [400, 600, 800, 1000], "format": "d", "title": "nm", "grid": true, "labelPadding": 13, "titlePadding": 9.5}},
"y": {"field": "v", "type": "quantitative", "scale": {"domain": [0, 500], "nice": false}, "axis": {"orient": "left", "values": [0, 50, 100, 150, 200, 250, 300, 350, 400, 450, 500], "title": null, "grid": true, "labelPadding": 13, "minExtent": 40, "maxExtent": 40}},
"color": {"field": "t", "type": "nominal", "scale": {"domain": ["10:02:00", "12:02:00", "14:02:00"], "range": ["#9400d3", "#009e73", "#e69f00"]}, "legend": null}
}},
{"transform": [{"filter": {"field": "nm", "lt": 0}}],
"mark": {"type": "line", "strokeWidth": 1.5},
"encoding": {
"x": {"field": "nm", "type": "quantitative", "scale": {"domain": [350, 1050], "nice": false, "zero": false}, "axis": null},
"y": {"field": "v", "type": "quantitative", "scale": {"domain": [0, 500], "nice": false}, "axis": null},
"color": {"field": "t", "type": "nominal", "scale": {"domain": ["10:02:00", "12:02:00", "14:02:00"], "range": ["#9400d3", "#009e73", "#56b4e9"]},
"legend": {"title": null, "orient": "none", "legendX": 463, "legendY": 5.3, "padding": 0, "symbolType": "M-3,0H3", "symbolSize": 121, "symbolStrokeWidth": 1.5, "symbolOpacity": 1, "rowPadding": 0, "labelOffset": -87, "symbolOffset": 74}}
}},
{"mark": {"type": "point", "opacity": 0},
"encoding": {
"x": {"field": "nm", "type": "quantitative", "scale": {"domain": [350, 1050], "nice": false, "zero": false}, "axis": {"orient": "top", "values": [400, 600, 800, 1000], "labels": false, "grid": false, "title": null, "minExtent": 0, "maxExtent": 0}},
"y": {"field": "v", "type": "quantitative", "scale": {"domain": [0, 500], "nice": false}, "axis": {"orient": "right", "values": [0, 50, 100, 150, 200, 250, 300, 350, 400, 450, 500], "labels": false, "grid": false, "title": null, "minExtent": 0, "maxExtent": 0}}
}}
],
"resolve": {"axis": {"x": "independent", "y": "independent"}, "scale": {"color": "independent"}}
}
]
}
